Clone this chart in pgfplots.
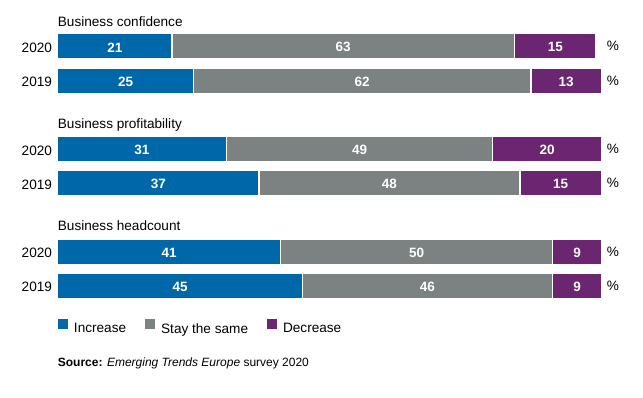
\documentclass[border=0pt]{standalone}
\usepackage{pgfplots}
\usepackage{pgfplotstable}
\pgfplotsset{compat=1.18}
\usepackage{fontspec}
\setmainfont{Liberation Sans}
\definecolor{incblue}{RGB}{0,104,168}
\definecolor{samegray}{RGB}{124,129,130}
\definecolor{decpurple}{RGB}{108,37,112}
\pgfplotstableread{
y inc same dec
46.3 21 63 15
80.6 25 62 13
149.3 31 49 20
183.3 37 48 15
251.5 41 50 9
285.6 45 46 9
}\chartdata
\pgfplotstablecreatecol[create col/expr={\thisrow{inc}/2}]{mi}\chartdata
\pgfplotstablecreatecol[create col/expr={\thisrow{inc}+\thisrow{same}/2}]{ms}\chartdata
\pgfplotstablecreatecol[create col/expr={\thisrow{inc}+\thisrow{same}+\thisrow{dec}/2}]{md}\chartdata
\tikzset{lab/.style={inner sep=0pt, font=\fontsize{13.6}{16}\selectfont}}
\pgfplotsset{
  myframe/.style={scale only axis, width=543.8pt, height=397pt,
  xmin=0, xmax=100, ymin=0, ymax=397, y dir=reverse,
  axis lines=none, clip=false, anchor=south west, at={(0pt,0pt)}},
  barlab/.style={only marks, mark=none, point meta=explicit symbolic,
    nodes near coords,
    every node near coord/.append style={anchor=center, text=white, inner sep=0pt,
     font=\fontsize{13.5}{15}\selectfont\bfseries, yshift=-1pt}},
}
\begin{document}
\begin{tikzpicture}
\path[use as bounding box] (-57.7pt,0pt) rectangle (585.3pt,397pt);
\begin{axis}[myframe,
  xbar stacked, bar width=25.5,
  legend image code/.code={\fill[#1,draw=none] (0pt,-0.5pt) rectangle (10pt,9.5pt);},
  legend style={at={(axis cs:0,327)}, anchor=west, draw=none, fill=none,
    inner sep=0pt, outer sep=0pt, legend columns=-1,
    nodes={inner sep=0pt, font=\fontsize{13.6}{16}\selectfont},
    /tikz/every odd column/.append style={column sep=6.3pt},
    /tikz/every even column/.append style={column sep=18.7pt}},
]
\addplot[fill=incblue, draw=white, line width=1.5pt] table[x=inc, y=y] {\chartdata};
\addplot[fill=samegray, draw=white, line width=1.5pt] table[x=same, y=y] {\chartdata};
\addplot[fill=decpurple, draw=white, line width=1.5pt] table[x=dec, y=y] {\chartdata};
\legend{Increase, Stay the same, Decrease}
\node[lab, anchor=base west] at (axis cs:0,26) {Business confidence};
\node[lab, anchor=base west] at (axis cs:0,128.5) {Business profitability};
\node[lab, anchor=base west] at (axis cs:0,230.5) {Business headcount};
\node[lab, anchor=base east, xshift=-5.5pt] at (axis cs:0,52.1) {2020};
\node[lab, anchor=base east, xshift=-5.5pt] at (axis cs:0,86.4) {2019};
\node[lab, anchor=base east, xshift=-5.5pt] at (axis cs:0,155.1) {2020};
\node[lab, anchor=base east, xshift=-5.5pt] at (axis cs:0,189.1) {2019};
\node[lab, anchor=base east, xshift=-5.5pt] at (axis cs:0,257.3) {2020};
\node[lab, anchor=base east, xshift=-5.5pt] at (axis cs:0,291.4) {2019};
\node[lab] at (axis cs:102.1,46.3) {\%};
\node[lab] at (axis cs:102.1,80.6) {\%};
\node[lab] at (axis cs:102.1,149.3) {\%};
\node[lab] at (axis cs:102.1,183.3) {\%};
\node[lab] at (axis cs:102.1,251.5) {\%};
\node[lab] at (axis cs:102.1,285.6) {\%};
\node[lab, anchor=base west, font=\fontsize{12}{14}\selectfont] at (axis cs:0,366)
  {\textbf{Source:} \textit{Emerging Trends Europe} survey 2020};
\end{axis}
\begin{axis}[myframe]
\addplot[barlab] table[x=mi, y=y, meta=inc] {\chartdata};
\addplot[barlab] table[x=ms, y=y, meta=same] {\chartdata};
\addplot[barlab] table[x=md, y=y, meta=dec] {\chartdata};
\end{axis}
\end{tikzpicture}
\end{document}
